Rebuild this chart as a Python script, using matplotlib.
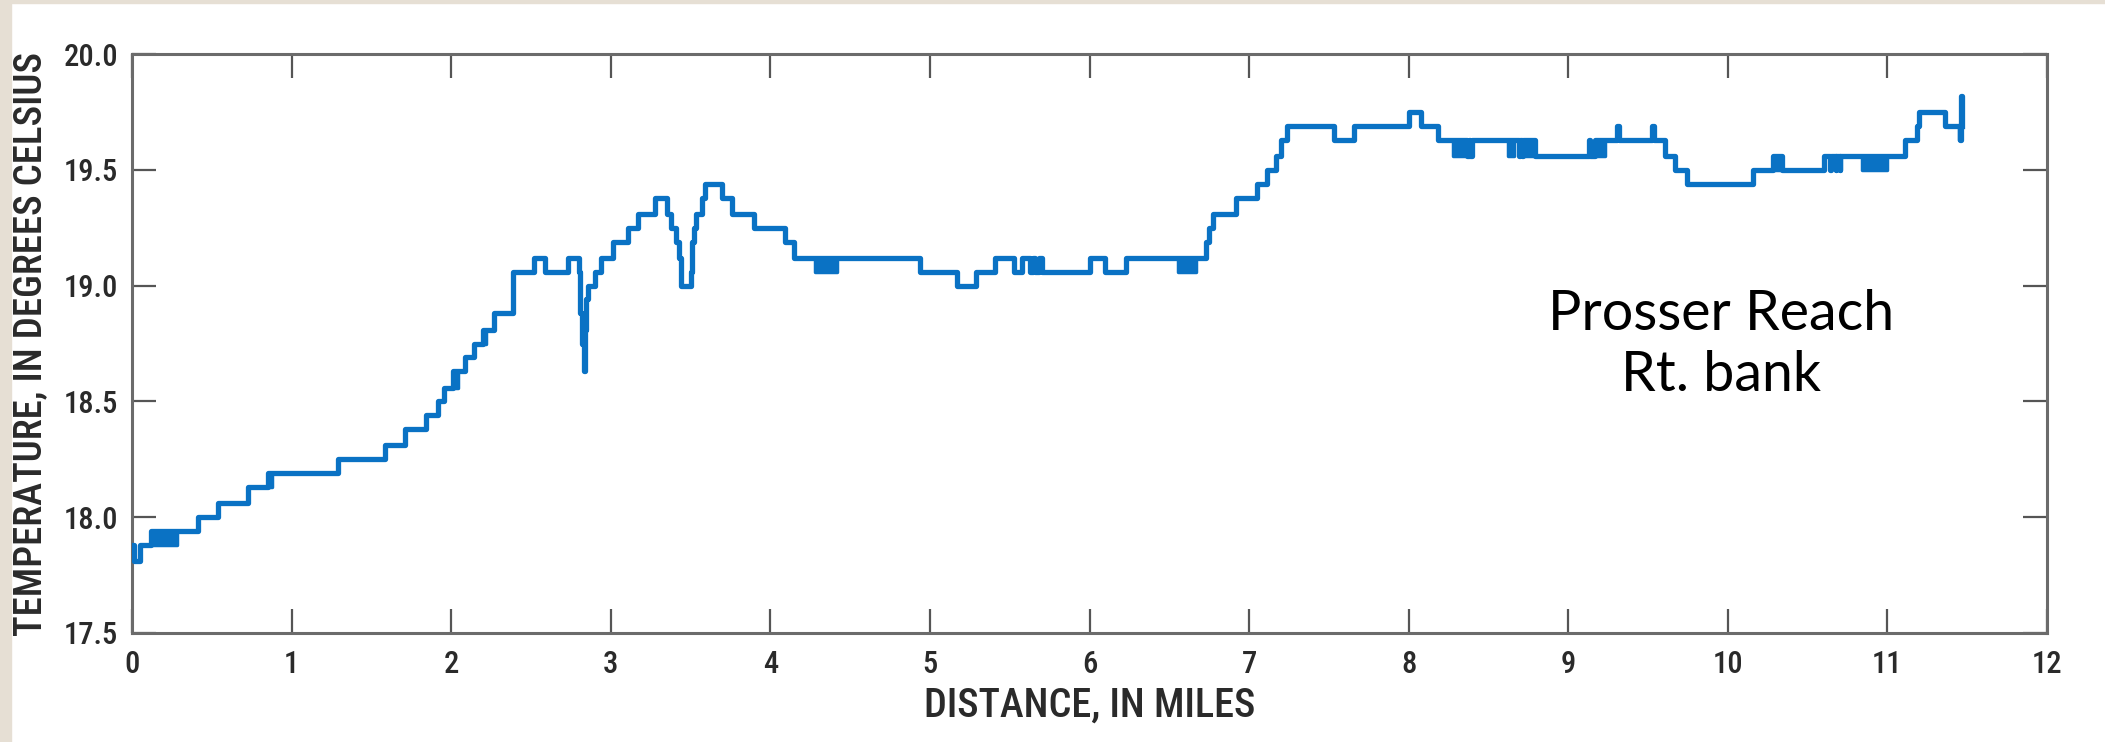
import matplotlib
matplotlib.use("Agg")
from matplotlib import pyplot as plt
from matplotlib.patches import Rectangle

# Step breakpoints: temperature holds from each distance to the next one
dist_mi = [0.00, 0.01, 0.05, 0.12, 0.415, 0.54, 0.73, 0.855, 1.29, 1.585,
           1.71, 1.84, 1.915, 1.955, 2.01, 2.085, 2.14, 2.20, 2.27, 2.39,
           2.52, 2.585, 2.73, 2.80, 2.81, 2.82, 2.83, 2.837, 2.845, 2.855,
           2.90, 2.94, 3.015, 3.11, 3.17, 3.28, 3.35, 3.38, 3.41, 3.425,
           3.44, 3.50, 3.51, 3.52, 3.535, 3.57, 3.59, 3.695, 3.76, 3.90,
           4.09, 4.15, 4.94, 5.17, 5.29, 5.41, 5.53, 5.58, 5.63, 5.645,
           5.66, 5.685, 5.70, 6.00, 6.10, 6.23, 6.73, 6.75, 6.775, 6.92,
           7.05, 7.11, 7.17, 7.20, 7.235, 7.53, 7.66, 8.00, 8.08, 8.185,
           8.28, 8.365, 8.375, 8.385, 8.395, 8.69, 8.695, 8.71, 8.715, 8.79,
           9.13, 9.135, 9.17, 9.305, 9.315, 9.525, 9.535, 9.605, 9.67, 9.745,
           10.155, 10.28, 10.34, 10.60, 10.64, 10.645, 10.675, 10.68, 10.70, 10.705,
           11.11, 11.185, 11.20, 11.36, 11.455, 11.46, 11.465, 11.47]
temp_c = [17.88, 17.81, 17.88, 17.94, 18.00, 18.06, 18.13, 18.19, 18.25, 18.31,
          18.38, 18.44, 18.50, 18.56, 18.63, 18.69, 18.75, 18.81, 18.88, 19.06,
          19.12, 19.06, 19.12, 19.06, 18.88, 18.75, 18.63, 18.81, 18.94, 19.00,
          19.06, 19.12, 19.19, 19.25, 19.31, 19.38, 19.31, 19.25, 19.19, 19.12,
          19.00, 19.06, 19.19, 19.25, 19.31, 19.38, 19.44, 19.38, 19.31, 19.25,
          19.19, 19.12, 19.06, 19.00, 19.06, 19.12, 19.06, 19.12, 19.06, 19.12,
          19.06, 19.12, 19.06, 19.12, 19.06, 19.12, 19.19, 19.25, 19.31, 19.38,
          19.44, 19.50, 19.56, 19.63, 19.69, 19.63, 19.69, 19.75, 19.69, 19.63,
          19.63, 19.56, 19.63, 19.56, 19.63, 19.56, 19.63, 19.56, 19.63, 19.56,
          19.63, 19.56, 19.63, 19.69, 19.63, 19.69, 19.63, 19.56, 19.50, 19.44,
          19.50, 19.56, 19.50, 19.56, 19.50, 19.56, 19.50, 19.56, 19.50, 19.56,
          19.63, 19.69, 19.75, 19.69, 19.63, 19.82, 19.69, 19.69]

# Stretches where the logger flickered between two adjacent readings
band_start = [0.12, 0.855, 2.01, 2.20, 4.28, 6.555, 8.28, 8.62, 8.72, 9.17, 10.28, 10.84, 11.45]
band_end = [0.28, 0.88, 2.04, 2.22, 4.42, 6.67, 8.35, 8.66, 8.79, 9.23, 10.34, 11.00, 11.46]
band_low = [17.88, 18.13, 18.56, 18.75, 19.06, 19.06, 19.56, 19.56, 19.56, 19.56, 19.50, 19.50, 19.63]
band_high = [17.94, 18.19, 18.63, 18.81, 19.12, 19.12, 19.63, 19.63, 19.63, 19.63, 19.56, 19.56, 19.69]

x_ticks = list(range(0, 13))
y_ticks = [17.5, 18.0, 18.5, 19.0, 19.5, 20.0]

blue = '#0a72c4'
gray = '#6b6b6b'
ink = '#2a2a2a'
narrow = ['Liberation Sans Narrow', 'Roboto Condensed', 'DejaVu Sans Condensed', 'Roboto']

fig = plt.figure(figsize=(21.05, 7.42), dpi=100)
fig.add_artist(Rectangle((0, 0), 11 / 2105, 1, transform=fig.transFigure,
                         color='#e6dfd4', zorder=-10))
fig.add_artist(Rectangle((0, 1 - 3 / 742), 1, 3 / 742, transform=fig.transFigure,
                         color='#e6dfd4', zorder=-10))

ax = fig.add_axes([132 / 2105, 1 - 633 / 742, (2047 - 132) / 2105, (633 - 54) / 742])

ax.step(dist_mi, temp_c, where='post', color=blue, lw=3.8, zorder=3)
for s, e, lo, hi in zip(band_start, band_end, band_low, band_high):
    ax.fill_between([s, e], [lo, lo], [hi, hi], color=blue, lw=2.5, zorder=3)

ax.set_xlim(0, 12)
ax.set_ylim(17.5, 20.0)
ax.set_xticks(x_ticks)
ax.set_yticks(y_ticks)
ax.set_xticklabels([str(v) for v in x_ticks])
ax.set_yticklabels(['%.1f' % v for v in y_ticks])

for sp in ax.spines.values():
    sp.set_color(gray)
    sp.set_linewidth(2.2)

ax.tick_params(axis='both', direction='in', length=17, width=1.6, color='#555555',
               top=True, right=True, labelsize=22, labelcolor=ink)
ax.tick_params(axis='x', pad=12)
ax.tick_params(axis='y', pad=10)
for lab in ax.get_xticklabels() + ax.get_yticklabels():
    lab.set_family(narrow)
    lab.set_stretch('condensed')
    lab.set_weight('medium')

ax.set_xlabel('DISTANCE, IN MILES', fontsize=29, family=narrow, stretch='condensed',
              weight='medium', color=ink, labelpad=6)
ax.set_ylabel('TEMPERATURE, IN DEGREES CELSIUS', fontsize=28, family=narrow,
              stretch='condensed', weight='medium', color=ink, labelpad=10)

ax.text(9.96, 18.745, 'Prosser Reach\nRt. bank', ha='center', va='center',
        fontsize=40, family=['Lato', 'DejaVu Sans'], color='black', linespacing=1.25)

fig.savefig('out.png', dpi=100)
